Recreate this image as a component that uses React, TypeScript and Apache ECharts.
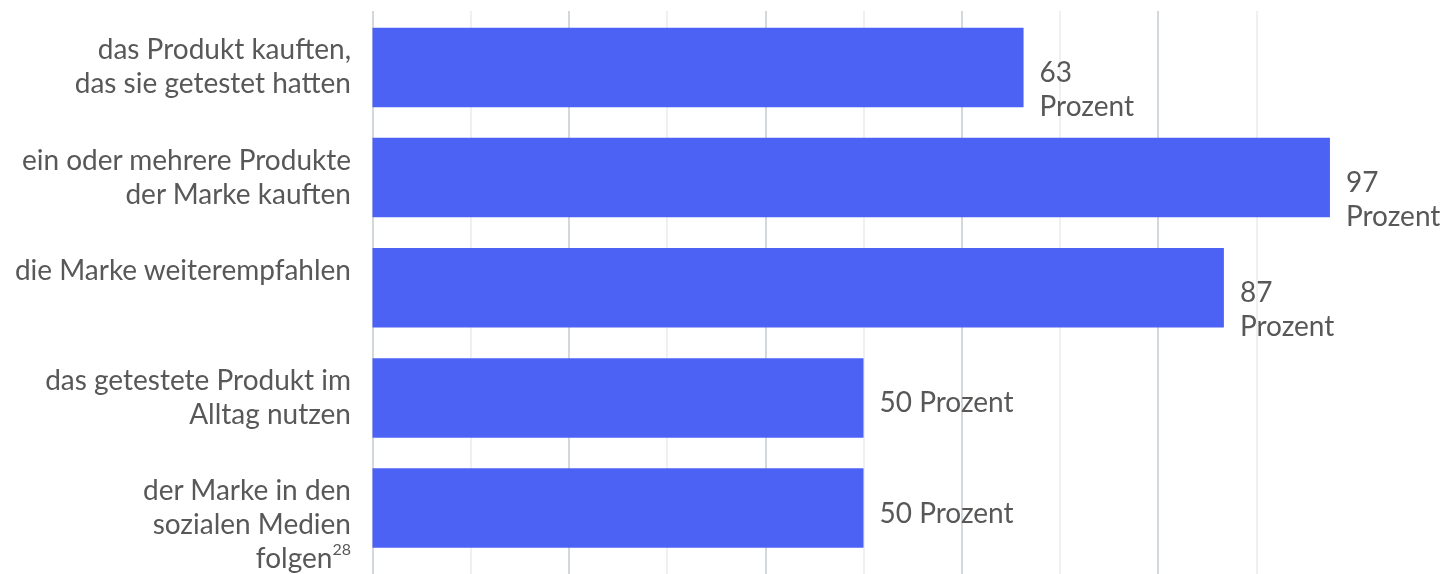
import React, { useEffect, useRef } from "react";
import * as echarts from "echarts";

const categories = [
  "das Produkt kauften,\ndas sie getestet hatten",
  "ein oder mehrere Produkte\nder Marke kauften",
  "die Marke weiterempfahlen",
  "das getestete Produkt im\nAlltag nutzen",
  "der Marke in den\nsozialen Medien\nfolgen{sup|28}",
];
// bar lengths as drawn in the picture
const barValues = [66.3, 97.5, 86.7, 50, 50];
// value label texts as printed
const valueTexts = ["63\nProzent", "97\nProzent", "87\nProzent", "50 Prozent", "50 Prozent"];
const xTicks = [0, 10, 20, 30, 40, 50, 60, 70, 80, 90, 100];

const FONT = "Lato";
const TEXT = "#585858";
const FS = 28;

export default function App() {
  const ref = useRef<HTMLDivElement>(null);
  useEffect(() => {
    if (!ref.current) return;
    const chart = echarts.init(ref.current, undefined, { renderer: "svg" });
    const left = 372.5;
    const right = 1444 - (372.5 + 982);
    chart.setOption({
      animation: false,
      grid: [
        { left, right, top: 12.4, bottom: 10.4, containLabel: false },
        { left, right, top: 11, bottom: 0, containLabel: false },
      ],
      xAxis: [
        {
          gridIndex: 0,
          type: "value",
          min: xTicks[0],
          max: xTicks[xTicks.length - 1],
          interval: 10,
          axisLine: { show: false },
          axisTick: { show: false },
          axisLabel: { show: false },
          splitLine: { show: false },
        },
        {
          gridIndex: 1,
          type: "value",
          min: xTicks[0],
          max: xTicks[xTicks.length - 1],
          interval: 10,
          axisLine: { show: false },
          axisTick: { show: false },
          axisLabel: { show: false },
          splitLine: {
            show: true,
            showMaxLine: false,
            lineStyle: { color: ["#d3d8dc", "#eef0f2"], width: 2 },
          },
        },
      ],
      yAxis: [
        {
          gridIndex: 0,
          type: "category",
          inverse: true,
          data: categories,
          axisLine: { show: false },
          axisTick: { show: false },
          splitLine: { show: false },
          axisLabel: {
            margin: 21.5,
            color: TEXT,
            fontFamily: FONT,
            fontSize: FS,
            lineHeight: 34,
            align: "right",
            verticalAlign: "top",
            padding: [-36, 0, 0, 0],
            rich: {
              sup: {
                fontFamily: FONT,
                fontSize: 16,
                color: TEXT,
                lineHeight: 26,
                verticalAlign: "top",
              },
            },
          },
          z: 10,
        },
        {
          gridIndex: 1,
          type: "category",
          data: ["a"],
          show: false,
        },
      ],
      series: [
        {
          type: "bar",
          xAxisIndex: 0,
          yAxisIndex: 0,
          data: barValues,
          barWidth: 79.5,
          itemStyle: { color: "#4c62f5" },
          z: 5,
          label: {
            show: true,
            position: "right",
            distance: 16,
            color: TEXT,
            fontFamily: FONT,
            fontSize: FS,
            lineHeight: 34,
            verticalAlign: "top",
            offset: [0, -13.5],
            formatter: (p: any) => valueTexts[p.dataIndex],
          },
        },
      ],
    });
    return () => chart.dispose();
  }, []);
  return (
    <div
      ref={ref}
      style={{ position: "fixed", left: 0, top: 0, width: 1444, height: 574 }}
    />
  );
}
